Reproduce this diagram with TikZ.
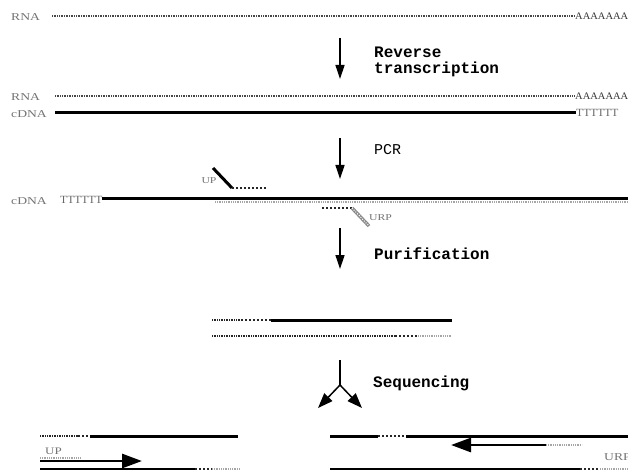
\documentclass[tikz,border=0pt]{standalone}
\usepackage{fontspec}
\setmainfont{Liberation Serif}
\setmonofont{Liberation Mono}
\newfontfamily\widelab[FakeStretch=1.3]{Liberation Serif}
\newfontfamily\taillab[FakeStretch=1.05]{Liberation Serif}
\usetikzlibrary{arrows.meta}
\begin{document}
\begin{tikzpicture}[x=1pt,y=-1pt,
  lab/.style={text=black!55, font=\widelab\fontsize{10.5}{11}\selectfont, inner sep=0pt},
  tail/.style={text=black!60, font=\taillab\fontsize{10}{10}\selectfont, inner sep=0pt, anchor=west},
  stagelabel/.style={font=\ttfamily\bfseries\fontsize{16}{16}\selectfont, anchor=west, align=left, inner sep=0pt},
  rna/.style={line width=1.8pt, black!72, dash pattern=on 1pt off 0.7pt},
  dna/.style={line width=3pt, black},
  sq/.style={line width=2.8pt, black!85, dash pattern=on 2.4pt off 1.6pt},
  light/.style={line width=1.6pt, black!35, dash pattern=on 1pt off 0.8pt},
  flow/.style={line width=1.3pt, -{Triangle[length=14pt,width=9pt]}},
  forkflow/.style={line width=1.5pt, -{Triangle[length=15pt,width=11pt]}},
  readarrow/.style={line width=2.8pt, -{Triangle[length=20pt,width=14pt]}},
]
\useasboundingbox (0,0) rectangle (628,470);

% ---- RNA template with poly(A) tail
\node[lab, anchor=west] (rnaA) at (11,17) {RNA};
\coordinate (rnaAs) at (52,16);
\coordinate (rnaAe) at (575,16);
\draw[rna] (rnaAs) -- (rnaAe);
\node[tail, text=black!80] (polyA1) at (rnaAe) {AAAAAAA};

% ---- reverse transcription
\coordinate (s1a) at (340,38);
\coordinate (s1b) at (340,79);
\draw[flow] (s1a) -- (s1b);
\node[stagelabel] (rtlab) at (374,52) {Reverse};
\node[stagelabel] (rtlab2) at (374,69) {transcription};

% ---- RNA/cDNA hybrid
\node[lab, anchor=west] (rnaB) at (11,97) {RNA};
\coordinate (rnaBs) at (55,96);
\coordinate (rnaBe) at (575,96);
\draw[rna] (rnaBs) -- (rnaBe);
\node[tail, text=black!80] (polyA2) at (rnaBe) {AAAAAAA};
\node[lab, anchor=west] (cdnaA) at (11,114) {cDNA};
\coordinate (cdnaAs) at (55,113);
\coordinate (cdnaAe) at (576,113);
\draw[dna] (cdnaAs) -- (cdnaAe);
\node[tail, font=\taillab\fontsize{11}{11}\selectfont] (polyT1) at (cdnaAe) {TTTTTT};

% ---- PCR
\coordinate (s2a) at (340,138);
\coordinate (s2b) at (340,179);
\draw[flow] (s2a) -- (s2b);
\node[stagelabel, font=\ttfamily\fontsize{15}{15}\selectfont] (pcrlab) at (374,150) {PCR};

% ---- cDNA with the two primers
\node[lab, anchor=west] (cdnaB) at (11,201) {cDNA};
\node[tail, font=\taillab\fontsize{11}{11}\selectfont] (polyT2) at (60,200) {TTTTTT};
\coordinate (cdnaBs) at (102,199);
\coordinate (cdnaBe) at (628,199);
\draw[dna] (cdnaBs) -- (cdnaBe);
\coordinate (gBs) at (215,202);
\draw[light] (gBs) -- (cdnaBe |- gBs);

\coordinate (upA) at (213,168);
\coordinate (upB) at (232,188);
\coordinate (upC) at (267,188);
\draw[line width=3pt] (upA) -- (upB);
\draw[sq, line width=2.2pt] (upB) -- (upC);
\node[lab, font=\widelab\fontsize{9}{9}\selectfont] (uplab) at (209,181) {UP};

\coordinate (urpA) at (322,208);
\coordinate (urpB) at (352,208);
\coordinate (urpC) at (369,226);
\draw[sq, line width=2.2pt] (urpA) -- (urpB);
\draw[line width=3.4pt, black!45] (urpB) -- (urpC);
\draw[line width=1pt, white, dash pattern=on 1pt off 1.5pt] (urpB) -- (urpC);
\node[lab, font=\widelab\fontsize{9}{9}\selectfont, anchor=west] (urplab) at (369,218) {URP};

% ---- purification
\coordinate (s3a) at (340,228);
\coordinate (s3b) at (340,269);
\draw[flow] (s3a) -- (s3b);
\node[stagelabel] (purlab) at (374,254) {Purification};

% ---- purified double-stranded product
\coordinate (pTa) at (212,320);
\coordinate (pTb) at (241,320);
\coordinate (pTc) at (271,320);
\coordinate (pTd) at (452,320);
\draw[rna, black!85] (pTa) -- (pTb);
\draw[sq] (pTb) -- (pTc);
\draw[dna] (pTc) -- (pTd);
\coordinate (pBa) at (212,336);
\coordinate (pBb) at (395,336);
\coordinate (pBc) at (418,336);
\coordinate (pBd) at (452,336);
\draw[rna, black!85, line width=2.4pt] (pBa) -- (pBb);
\draw[sq] (pBb) -- (pBc);
\draw[light] (pBc) -- (pBd);

% ---- sequencing fork
\coordinate (forkTop) at (340,360);
\coordinate (forkMid) at (340,385);
\coordinate (forkL) at (318,408);
\coordinate (forkR) at (362,408);
\draw[line width=1.5pt] (forkTop) -- (forkMid);
\draw[forkflow] (forkMid) -- (forkL);
\draw[forkflow] (forkMid) -- (forkR);
\node[stagelabel] (seqlab) at (373,383) {Sequencing};

% ---- read from UP (left)
\coordinate (lTa) at (40,436);
\coordinate (lTb) at (78,436);
\coordinate (lTc) at (90,436);
\coordinate (lTd) at (238,436);
\draw[rna, black!85] (lTa) -- (lTb);
\draw[sq] (lTb) -- (lTc);
\draw[dna] (lTc) -- (lTd);
\node[lab, anchor=west, font=\widelab\fontsize{10}{10}\selectfont] (uprd) at (45,451) {UP};
\coordinate (laA) at (40,461);
\coordinate (laB) at (142,461);
\coordinate (laG) at (80,458);
\draw[readarrow] (laA) -- (laB);
\draw[light] (laA |- laG) -- (laG);
\coordinate (lBa) at (40,469);
\coordinate (lBb) at (195,469);
\coordinate (lBc) at (212,469);
\coordinate (lBd) at (240,469);
\draw[dna] (lBa) -- (lBb);
\draw[sq] (lBb) -- (lBc);
\draw[light] (lBc) -- (lBd);

% ---- read from URP (right)
\coordinate (rTa) at (330,436);
\coordinate (rTb) at (378,436);
\coordinate (rTc) at (406,436);
\coordinate (rTd) at (628,436);
\draw[dna] (rTa) -- (rTb);
\draw[sq] (rTb) -- (rTc);
\draw[dna] (rTc) -- (rTd);
\coordinate (raA) at (546,445);
\coordinate (raB) at (451,445);
\coordinate (raG) at (582,445);
\draw[readarrow] (raA) -- (raB);
\draw[light] (raA) -- (raG);
\node[lab, anchor=west, font=\widelab\fontsize{10.5}{10}\selectfont] (urprd) at (604,457) {URP};
\coordinate (rBa) at (330,469);
\coordinate (rBb) at (580,469);
\coordinate (rBc) at (600,469);
\coordinate (rBd) at (628,469);
\draw[dna] (rBa) -- (rBb);
\draw[sq] (rBb) -- (rBc);
\draw[light] (rBc) -- (rBd);
\end{tikzpicture}
\end{document}
